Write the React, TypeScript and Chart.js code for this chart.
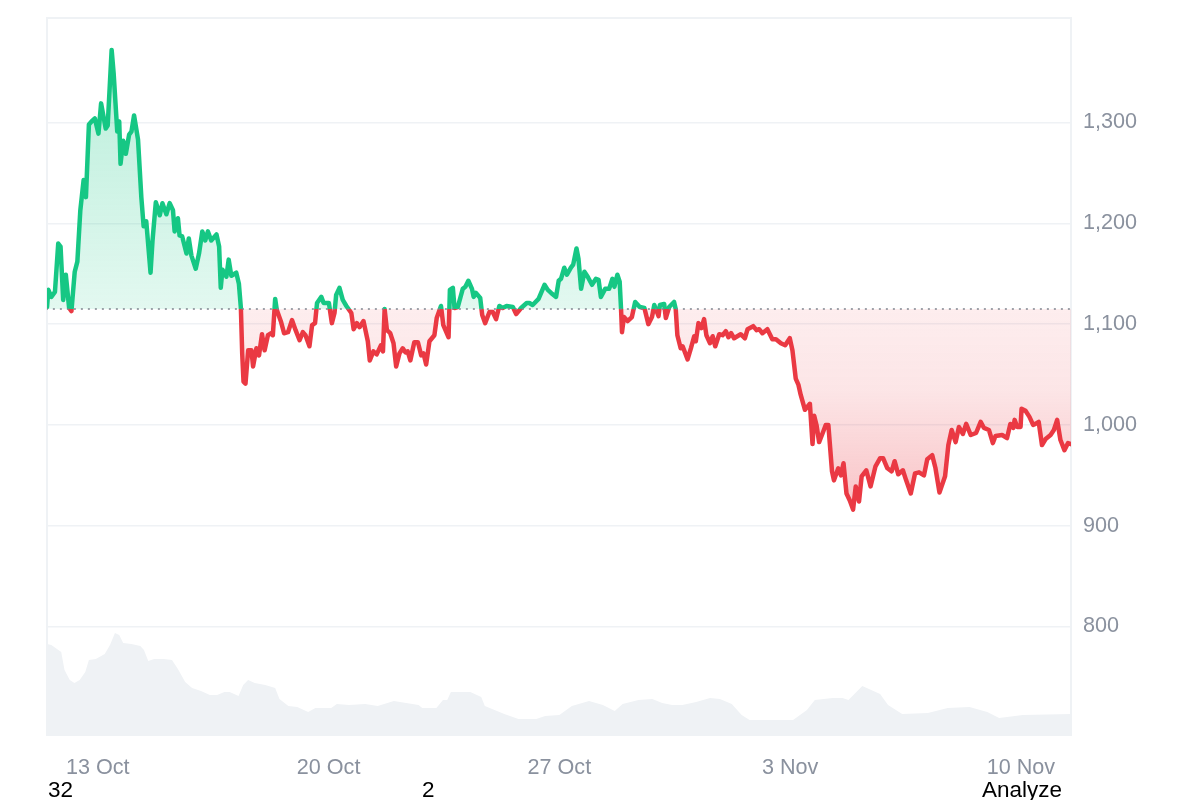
import { useEffect, useRef } from "react";
import { Chart, registerables } from "chart.js";

Chart.register(...registerables);

// days counted from 13 Oct
const priceDays = [
  -1.54, -1.5, -1.41, -1.3, -1.2, -1.13, -1.05, -0.97, -0.87, -0.8, -0.7, -0.62, -0.53, -0.43, -0.36, -0.27, -0.19, -0.09, 0.02, 0.1,
  0.24, 0.3, 0.42, 0.48, 0.59, 0.65, 0.69, 0.77, 0.85, 0.95, 1.02, 1.1, 1.22, 1.32, 1.39, 1.47, 1.6, 1.66, 1.76, 1.88,
  1.96, 2.08, 2.18, 2.28, 2.33, 2.43, 2.48, 2.56, 2.69, 2.76, 2.84, 2.97, 3.07, 3.17, 3.26, 3.34, 3.44, 3.6, 3.68, 3.73,
  3.78, 3.9, 3.97, 4.05, 4.2, 4.28, 4.34, 4.38, 4.42, 4.48, 4.56, 4.66, 4.71, 4.81, 4.89, 4.98, 5.06, 5.16, 5.26, 5.31,
  5.38, 5.43, 5.56, 5.65, 5.77, 5.89, 6.0, 6.12, 6.22, 6.3, 6.42, 6.5, 6.59, 6.65, 6.78, 6.85, 7.01, 7.1, 7.18, 7.23,
  7.33, 7.43, 7.54, 7.69, 7.76, 7.86, 7.94, 8.06, 8.19, 8.25, 8.36, 8.46, 8.59, 8.65, 8.7, 8.77, 8.87, 8.97, 9.05, 9.15,
  9.25, 9.33, 9.4, 9.48, 9.6, 9.71, 9.81, 9.88, 9.96, 10.06, 10.21, 10.28, 10.41, 10.48, 10.64, 10.68, 10.77, 10.82, 10.92, 11.07,
  11.15, 11.24, 11.35, 11.4, 11.47, 11.6, 11.66, 11.75, 11.88, 11.98, 12.08, 12.18, 12.28, 12.4, 12.59, 12.69, 12.84, 13.01, 13.09, 13.19,
  13.37, 13.55, 13.65, 13.75, 13.9, 13.98, 14.05, 14.15, 14.23, 14.35, 14.42, 14.52, 14.58, 14.66, 14.76, 14.86, 14.99, 15.11, 15.19, 15.26,
  15.39, 15.51, 15.61, 15.67, 15.76, 15.83, 15.87, 15.9, 15.96, 16.07, 16.2, 16.3, 16.44, 16.58, 16.7, 16.81, 16.88, 17.01, 17.05, 17.18,
  17.23, 17.33, 17.48, 17.53, 17.58, 17.68, 17.74, 17.89, 17.99, 18.09, 18.14, 18.22, 18.31, 18.39, 18.46, 18.57, 18.65, 18.73, 18.85, 18.95,
  19.05, 19.13, 19.21, 19.3, 19.5, 19.63, 19.71, 19.88, 19.98, 20.06, 20.16, 20.31, 20.46, 20.57, 20.72, 20.85, 20.99, 21.07, 21.17, 21.25,
  21.32, 21.45, 21.6, 21.68, 21.73, 21.8, 21.88, 22.0, 22.08, 22.16, 22.27, 22.33, 22.46, 22.54, 22.62, 22.71, 22.81, 22.91, 22.99, 23.09,
  23.17, 23.31, 23.44, 23.59, 23.73, 23.82, 23.95, 24.08, 24.17, 24.28, 24.42, 24.52, 24.66, 24.79, 24.91, 25.06, 25.16, 25.31, 25.41, 25.53,
  25.7, 25.8, 25.9, 26.02, 26.12, 26.24, 26.34, 26.48, 26.64, 26.78, 26.88, 27.03, 27.15, 27.23, 27.43, 27.58, 27.68, 27.77, 27.81, 27.89,
  27.99, 28.02, 28.14, 28.26, 28.37, 28.44, 28.54, 28.64, 28.75, 28.9, 29.0, 29.1, 29.2, 29.32, 29.43, 29.52,
];
const prices = [
  1117, 1134, 1127, 1132, 1180, 1177, 1124, 1149, 1116, 1113, 1152, 1162, 1213, 1243, 1226, 1298, 1301, 1304, 1289, 1319,
  1294, 1297, 1372, 1349, 1291, 1301, 1259, 1282, 1269, 1288, 1291, 1307, 1283, 1226, 1197, 1202, 1151, 1183, 1221, 1208,
  1220, 1209, 1220, 1213, 1192, 1205, 1188, 1187, 1170, 1185, 1168, 1155, 1170, 1192, 1183, 1192, 1183, 1189, 1177, 1136,
  1154, 1147, 1164, 1148, 1151, 1140, 1116, 1071, 1043, 1041, 1074, 1074, 1058, 1076, 1069, 1090, 1074, 1089, 1091, 1089,
  1125, 1114, 1102, 1091, 1092, 1104, 1094, 1084, 1092, 1089, 1078, 1099, 1101, 1121, 1127, 1121, 1121, 1101, 1111, 1129,
  1136, 1124, 1118, 1111, 1095, 1101, 1097, 1103, 1083, 1064, 1073, 1070, 1079, 1073, 1115, 1094, 1091, 1081, 1058, 1071,
  1076, 1072, 1073, 1064, 1082, 1082, 1069, 1071, 1060, 1083, 1089, 1106, 1118, 1099, 1087, 1134, 1136, 1116, 1117, 1135,
  1137, 1143, 1135, 1127, 1131, 1126, 1109, 1101, 1112, 1112, 1105, 1118, 1116, 1118, 1117, 1110, 1116, 1121, 1121, 1119,
  1125, 1139, 1134, 1131, 1127, 1143, 1145, 1156, 1149, 1156, 1159, 1175, 1165, 1135, 1152, 1147, 1139, 1145, 1144, 1127,
  1135, 1135, 1145, 1137, 1149, 1142, 1116, 1092, 1107, 1103, 1107, 1122, 1117, 1116, 1100, 1107, 1119, 1108, 1119, 1120,
  1106, 1117, 1122, 1115, 1089, 1076, 1078, 1065, 1076, 1088, 1083, 1101, 1096, 1105, 1089, 1081, 1088, 1078, 1090, 1089,
  1093, 1087, 1091, 1086, 1090, 1086, 1095, 1098, 1094, 1095, 1091, 1095, 1085, 1085, 1081, 1079, 1086, 1074, 1046, 1040,
  1030, 1015, 1021, 981, 1009, 1000, 983, 993, 1000, 1000, 954, 945, 957, 950, 962, 932, 925, 916, 939, 924,
  949, 955, 939, 959, 967, 967, 957, 954, 964, 951, 955, 945, 932, 952, 953, 950, 966, 970, 957, 933,
  949, 980, 995, 983, 998, 991, 1001, 990, 992, 1003, 997, 995, 982, 989, 990, 987, 1001, 997, 1005, 998,
  998, 1016, 1014, 1008, 1000, 1001, 1003, 980, 986, 990, 995, 1005, 985, 975, 982, 981,
];

const volumeDays = [
  -1.55, -1.41, -1.11, -1.01, -0.85, -0.71, -0.55, -0.38, -0.27, -0.06, 0.21, 0.37, 0.52, 0.65, 0.77, 1.02, 1.29, 1.4, 1.53, 1.71,
  2.0, 2.25, 2.43, 2.65, 2.86, 3.13, 3.4, 3.62, 3.84, 4.0, 4.27, 4.41, 4.56, 4.76, 5.08, 5.38, 5.51, 5.78, 6.05, 6.38,
  6.6, 7.08, 7.25, 7.62, 8.11, 8.49, 8.98, 9.73, 9.84, 10.27, 10.47, 10.6, 10.71, 11.3, 11.63, 11.74, 12.33, 12.76, 13.3, 13.57,
  14.0, 14.38, 14.9, 15.32, 15.68, 15.92, 16.4, 16.82, 17.12, 17.42, 17.73, 18.15, 18.57, 18.87, 19.23, 19.53, 19.77, 21.09, 21.51, 21.75,
  22.29, 22.59, 22.77, 23.19, 23.73, 23.97, 24.4, 25.18, 25.78, 26.44, 26.98, 27.34, 28.06, 29.52,
];
const volumes = [
  92, 91, 84, 66, 56, 53, 56, 64, 76, 77, 82, 91, 103, 101, 93, 92, 90, 86, 75, 77,
  77, 76, 67, 54, 48, 45, 41, 41, 44, 44, 40, 51, 56, 53, 51, 48, 37, 30, 29, 24,
  28, 28, 32, 31, 32, 30, 35, 31, 28, 28, 36, 36, 44, 44, 39, 30, 22, 17, 17, 20,
  21, 30, 35, 31, 25, 32, 36, 37, 33, 31, 31, 34, 38, 37, 32, 21, 16, 16, 26, 36,
  38, 38, 36, 50, 42, 31, 22, 23, 28, 29, 24, 18, 21, 22,
];

const basePrice = 1115;
const xTickDays = [0, 7, 14, 21, 28];
const xTickLabels = ["13 Oct", "20 Oct", "27 Oct", "3 Nov", "10 Nov"];
const yTicks = [800, 900, 1000, 1100, 1200, 1300];

const GREEN = "#16c784";
const RED = "#ea3943";
const GRID = "#eff2f5";
const TICK = "#8a919e";
const FONT = '"Liberation Sans", Arial, sans-serif';

// left, top and right edges of the plot
const framePlugin = {
  id: "frame",
  beforeDatasetsDraw(chart: Chart) {
    const { ctx, chartArea: a } = chart;
    ctx.save();
    ctx.strokeStyle = GRID;
    ctx.lineWidth = 2;
    ctx.beginPath();
    ctx.moveTo(a.left, a.bottom);
    ctx.lineTo(a.left, a.top);
    ctx.lineTo(a.right, a.top);
    ctx.lineTo(a.right, a.bottom);
    ctx.stroke();
    ctx.restore();
  },
};

function PriceChart() {
  const chartRef = useRef<HTMLCanvasElement>(null);

  useEffect(() => {
    if (!chartRef.current) return;
    const ctx = chartRef.current.getContext("2d");
    if (!ctx) return;

    const chart = new Chart(ctx, {
      type: "line",
      data: {
        datasets: [
          {
            data: [
              { x: -2, y: basePrice },
              { x: 30, y: basePrice },
            ],
            borderColor: "#80858f",
            borderWidth: 1.5,
            borderDash: [2, 5],
            pointRadius: 0,
            fill: false,
            order: 0,
          },
          {
            data: priceDays.map((d, i) => ({ x: d, y: prices[i] })),
            borderColor: GREEN,
            borderWidth: 4.5,
            borderJoinStyle: "round",
            borderCapStyle: "round",
            pointRadius: 0,
            order: 1,
          },
          {
            data: volumeDays.map((d, i) => ({ x: d, y: volumes[i] })),
            yAxisID: "volume",
            borderWidth: 0,
            backgroundColor: GRID,
            pointRadius: 0,
            fill: "origin",
            order: 2,
          },
        ],
      },
      options: {
        responsive: false,
        animation: false,
        layout: { padding: { left: 47, top: 18 } },
        scales: {
          x: {
            type: "linear",
            min: -1.541,
            max: 29.52,
            afterBuildTicks: (scale) => {
              scale.ticks = xTickDays.map((value) => ({ value }));
            },
            afterFit: (scale) => {
              scale.height = 64;
            },
            grid: { display: false },
            border: { display: false },
            ticks: {
              autoSkip: false,
              maxRotation: 0,
              padding: 11,
              color: TICK,
              font: { family: FONT, size: 21.6 },
              callback: (value) => xTickLabels[xTickDays.indexOf(Number(value))],
            },
          },
          y: {
            position: "right",
            min: 691.4,
            max: 1403.7,
            afterBuildTicks: (scale) => {
              scale.ticks = yTicks.map((value) => ({ value }));
            },
            afterFit: (scale: any) => {
              scale.width = 129;
              scale.paddingTop = 0;
              scale.paddingBottom = 0;
            },
            grid: { color: GRID, lineWidth: 1.5, drawTicks: false },
            border: { display: false },
            ticks: {
              padding: 12,
              color: TICK,
              font: { family: FONT, size: 21.6 },
              callback: (value) => Number(value).toLocaleString("en-US"),
            },
          },
          volume: { display: false, min: 0, max: 718 },
        },
        plugins: { legend: { display: false }, tooltip: { enabled: false } },
      },
      plugins: [framePlugin],
    });

    // the colours depend on where the base price lands, so set them after the first layout
    const { top, bottom } = chart.chartArea;
    const yScale = chart.scales.y;
    const baseY = yScale.getPixelForValue(basePrice);
    const split = (baseY - top) / (bottom - top);

    const stroke = ctx.createLinearGradient(0, top, 0, bottom);
    stroke.addColorStop(0, GREEN);
    stroke.addColorStop(split, GREEN);
    stroke.addColorStop(split, RED);
    stroke.addColorStop(1, RED);

    const above = ctx.createLinearGradient(0, yScale.getPixelForValue(1372), 0, baseY);
    above.addColorStop(0, "rgba(22, 199, 132, 0.3)");
    above.addColorStop(1, "rgba(22, 199, 132, 0.12)");

    const below = ctx.createLinearGradient(0, baseY, 0, yScale.getPixelForValue(916));
    below.addColorStop(0, "rgba(234, 57, 67, 0.09)");
    below.addColorStop(0.4, "rgba(234, 57, 67, 0.13)");
    below.addColorStop(1, "rgba(234, 57, 67, 0.3)");

    const price: any = chart.data.datasets[1];
    price.borderColor = stroke;
    price.fill = { value: basePrice, above, below };
    chart.update();

    return () => chart.destroy();
  }, []);

  return <canvas ref={chartRef} width={1200} height={800} style={{ display: "block" }} />;
}

const footStyle = {
  position: "absolute",
  top: 777,
  fontFamily: FONT,
  fontSize: 22.5,
  lineHeight: "26px",
  color: "#000",
} as const;

export default function App() {
  return (
    <div style={{ position: "absolute", left: 0, top: 0, width: 1200, height: 800, overflow: "hidden", background: "#fff" }}>
      <PriceChart />
      <span style={{ ...footStyle, left: 48 }}>32</span>
      <span style={{ ...footStyle, left: 422 }}>2</span>
      <span style={{ ...footStyle, left: 982 }}>Analyze</span>
    </div>
  );
}
